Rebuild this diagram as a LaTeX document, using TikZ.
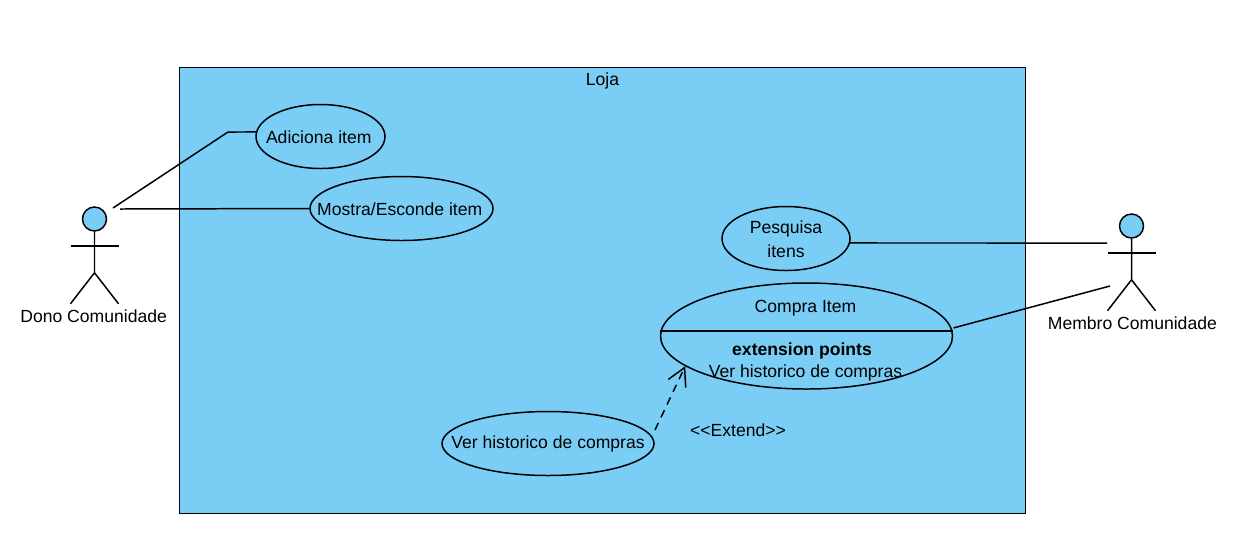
\documentclass[tikz,border=0pt]{standalone}
\usepackage{fontspec}
\setmainfont{Liberation Sans}
\usetikzlibrary{shapes.geometric,arrows.meta}
\definecolor{lojaazul}{RGB}{122,206,245}

\begin{document}
\begin{tikzpicture}[x=0.02cm,y=-0.02cm,line width=0.85pt,node distance=1.94cm,
    every node/.style={font=\fontsize{10}{13.6}\selectfont,inner sep=0pt},
    every label/.style={font=\fontsize{10}{13.6}\selectfont,inner sep=0pt,yshift=-0.5pt},
    use case/.style={ellipse,draw,fill=lojaazul},
    actor head/.style={circle,draw,fill=lojaazul,minimum size=24*0.02cm},
    assoc/.style={shorten <=1pt}]
    \useasboundingbox (0,0) rectangle (1247,549);
    \node[draw,fill=lojaazul,minimum width=846*0.02cm,minimum height=446*0.02cm] (loja) at (602.5,290.5) {};
    \node[] (lojalabel) at (602.5,81) {Loja};

    \node[use case,minimum width=129*0.02cm,minimum height=64*0.02cm,label={[xshift=-1pt]center:Adiciona item}] (adiciona) at (320.5,136.5) {};
    \node[use case,minimum width=183*0.02cm,minimum height=64*0.02cm,label={[xshift=-1pt]center:Mostra/Esconde item}] (mostra) at (401.5,208.5) {};
    \node[use case,minimum width=128*0.02cm,minimum height=64*0.02cm,label={[align=center]center:Pesquisa\\itens}] (pesquisa) at (786,238.5) {};
    \node[use case,minimum width=292*0.02cm,minimum height=106*0.02cm] (compra) at (806.5,336) {};
    \node[use case,minimum width=212*0.02cm,minimum height=64*0.02cm,label=center:Ver historico de compras] (ver) at (548,443.5) {};

    \node[] (compratitulo) at (805.5,308.5) {Compra Item};
    \node[] (extensao) at (802,351) {\bfseries extension points};
    \node[] (verponto) at (805.5,373) {Ver historico de compras};
    \node[] (extend) at (738,430) {<{}<Extend>{}>};

    \node[actor head] (dono) at (94.5,219) {};
    \node[] (donolabel) [below of = dono, xshift = -0.5pt] {Dono Comunidade};
    \node[actor head] (membro) at (1131.5,226) {};
    \node[] (membrolabel) [below of = membro, xshift = 0.5pt] {Membro Comunidade};

    \foreach \head in {dono,membro} {
        \draw (\head.south) -- ++(0,41) -- ++(-24,31) ++(24,-31) -- ++(24,31);
        \draw (\head.south) ++(-24,14) -- ++(48,0);
    }

    \coordinate (donoa) at (113,208);
    \coordinate (donob) at (120,209);
    \coordinate (curva) at (228,132);
    \coordinate (membroa) at (1107,243);
    \coordinate (membrob) at (1110,286);
    \coordinate (verfim) at (655,430);

    \draw (donoa) -- (curva) -- (adiciona.176);
    \draw (donob) -- (mostra.west);
    \draw (pesquisa.356) -- (membroa);
    \draw[assoc] (compra.3.5) -- (membrob);
    \draw (compra.178) -- (compra.2);
    \draw[dash pattern=on 4.5pt off 3.5pt,-{Straight Barb[length=10pt,width=11pt]}] (verfim) -- (compra.194);
\end{tikzpicture}
\end{document}
